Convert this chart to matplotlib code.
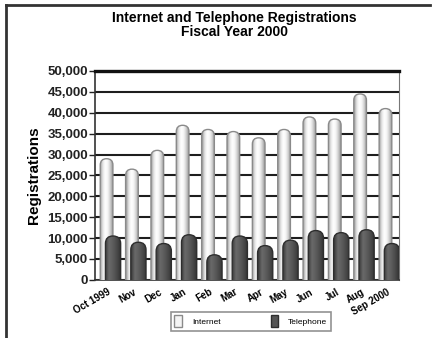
import numpy as np
import matplotlib
matplotlib.use("Agg")
import matplotlib.pyplot as plt
from matplotlib.patches import FancyBboxPatch, Patch
from matplotlib.colors import LinearSegmentedColormap
from matplotlib.lines import Line2D

months = ["Oct 1999", "Nov", "Dec", "Jan", "Feb", "Mar", "Apr", "May",
          "Jun", "Jul", "Aug", "Sep 2000"]
internet = [29000, 26500, 31000, 37000, 36000, 35500, 34000, 36000,
            39000, 38500, 44500, 41000]
telephone = [10500, 9000, 8700, 10800, 6000, 10500, 8200, 9500,
             11800, 11300, 12000, 8700]
yticks = list(range(0, 50001, 5000))

plt.rcParams["font.family"] = ["Liberation Sans", "DejaVu Sans"]

INET_CMAP = LinearSegmentedColormap.from_list(
    "inet", ["#9a9a9a", "#e2e2e2", "#ffffff", "#f6f6f6", "#cfcfcf", "#959595"])
TEL_CMAP = LinearSegmentedColormap.from_list(
    "tel", ["#3a3a3a", "#6a6a6a", "#5c5c5c", "#4a4a4a", "#333333"])

fig = plt.figure(figsize=(4.34, 3.38), dpi=100, facecolor="white")
ax = fig.add_axes([0.219, 0.172, 0.701, 0.618])
ax.set_xlim(-0.5, len(months) - 0.5)
ax.set_ylim(0, 50000)

x = np.arange(len(months))
b_inet = ax.bar(x - 0.045, internet, width=0.5, color="none", edgecolor="none")
b_tel = ax.bar(x + 0.21, telephone, width=0.6, color="none", edgecolor="none")

# aspect between data units so the rounded caps look circular
bb = ax.get_window_extent()
px_x = bb.width / (ax.get_xlim()[1] - ax.get_xlim()[0])
px_y = bb.height / (ax.get_ylim()[1] - ax.get_ylim()[0])
asp = px_x / px_y

grad = np.linspace(0, 1, 64).reshape(1, -1)


def cylinder(rect, cmap, edge, z):
    x0, w, h = rect.get_x(), rect.get_width(), rect.get_height()
    r = w / 2
    drop = r * asp
    box = FancyBboxPatch((x0, -drop), w, h + drop,
                         boxstyle=f"round,pad=0,rounding_size={r}",
                         mutation_aspect=asp, facecolor="none",
                         edgecolor=edge, linewidth=1.0, zorder=z + 0.1)
    ax.add_patch(box)
    im = ax.imshow(grad, cmap=cmap, extent=[x0, x0 + w, 0, h],
                   aspect="auto", zorder=z, interpolation="bicubic")
    im.set_clip_path(box)


for rect in b_inet:
    cylinder(rect, INET_CMAP, "#8a8a8a", 3)
for rect in b_tel:
    cylinder(rect, TEL_CMAP, "#2e2e2e", 4)

ax.set_xlim(-0.5, len(months) - 0.5)
ax.set_ylim(0, 50000)

ax.set_yticks(yticks)
ax.set_yticklabels([f"{v:,}" for v in yticks], fontsize=9.5,
                   fontweight="bold", color="#222222")
ax.tick_params(axis="y", length=4, width=1, color="#222222", pad=1)
ax.set_xticks(x)
ax.set_xticklabels(months, rotation=30, ha="right", rotation_mode="anchor",
                   fontsize=7, fontweight="bold")
ax.tick_params(axis="x", length=0, pad=5)

ax.grid(axis="y", color="#1e1e1e", linewidth=1.5, zorder=1)
ax.set_axisbelow(True)
for side in ["left", "bottom"]:
    ax.spines[side].set_color("#333333")
    ax.spines[side].set_linewidth(1.2)
ax.spines["right"].set_color("#777777")
ax.spines["top"].set_color("#111111")
ax.spines["top"].set_linewidth(2.4)

ax.set_ylabel("Registrations", fontsize=11, fontweight="bold", labelpad=5)

fig.text(0.54, 0.925, "Internet and Telephone Registrations\nFiscal Year 2000",
         ha="center", va="center", fontsize=10, fontweight="bold",
         linespacing=1.0)

handles = [Patch(facecolor="#f4f4f4", edgecolor="#8a8a8a", label="Internet"),
           Patch(facecolor="#555555", edgecolor="#2e2e2e", label="Telephone")]
leg = fig.legend(handles=handles, loc="center", bbox_to_anchor=(0.578, 0.05),
                 ncol=2, fontsize=6, frameon=True, fancybox=False,
                 handlelength=0.9, handleheight=1.9, columnspacing=6.0,
                 handletextpad=1.2, borderpad=0.4, borderaxespad=0,
                 edgecolor="#777777")
leg.get_frame().set_linewidth(1.2)

# outer frame of the original image
fig.add_artist(Line2D([0.013, 0.013], [0.0, 0.985], color="#333333", lw=2))
fig.add_artist(Line2D([0.013, 0.99], [0.985, 0.985], color="#333333", lw=2))

fig.savefig("out.png", dpi=100)
